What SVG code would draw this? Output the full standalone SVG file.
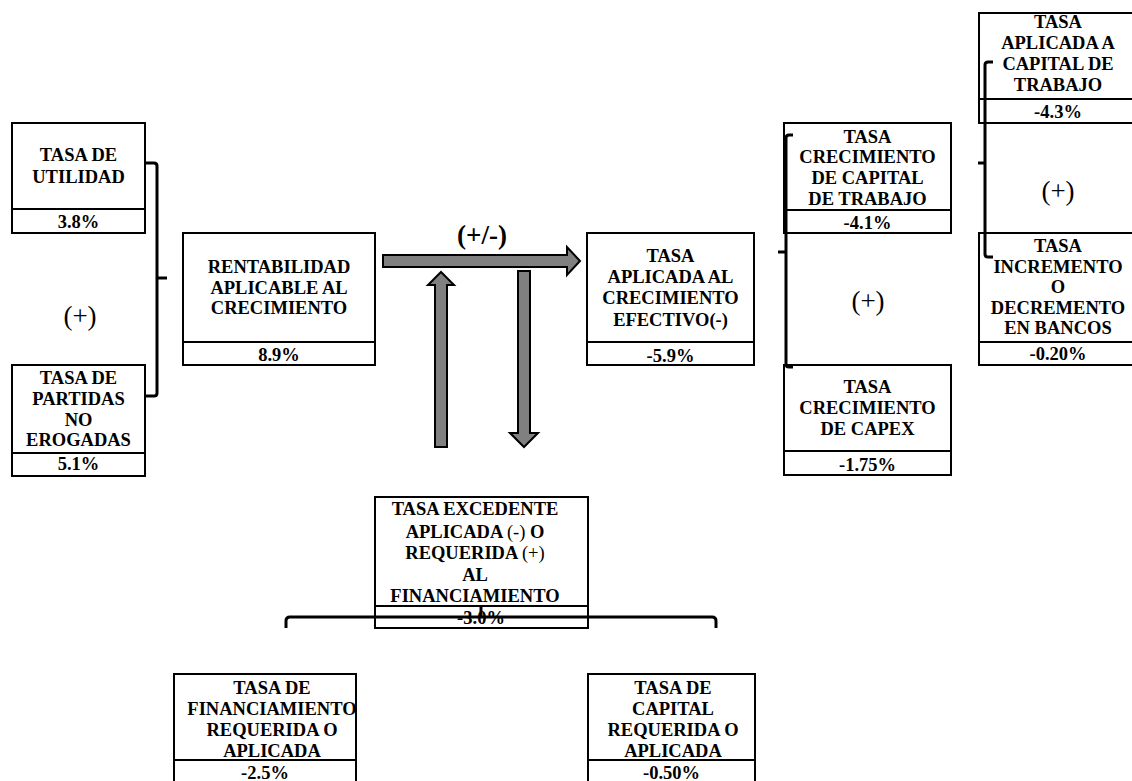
<svg xmlns="http://www.w3.org/2000/svg" width="1132" height="781" viewBox="0 0 1132 781">
<style>
.box{fill:#fff;stroke:#000;stroke-width:2}
.div{stroke:#000;stroke-width:2}
.t{font-family:"Liberation Serif","Times New Roman",serif;font-weight:bold;font-size:18.5px;text-anchor:middle;fill:#000}
.op{font-family:"Liberation Serif","Times New Roman",serif;font-size:27px;text-anchor:middle;fill:#000}
.n{font-weight:normal}
.br{fill:none;stroke:#000;stroke-width:3;stroke-linejoin:round}
.ar{fill:#808080;stroke:#000;stroke-width:2;stroke-linejoin:miter}
</style>
<rect width="1132" height="781" fill="#fff"/>

<g id="tasa-utilidad">
<rect class="box" x="12" y="123" width="133" height="110"/>
<line class="div" x1="12" y1="209" x2="145" y2="209"/>
<text class="t" x="78.5" y="161">TASA DE</text>
<text class="t" x="78.5" y="183">UTILIDAD</text>
<text class="t" x="78.5" y="228">3.8%</text>
</g>

<g id="tasa-partidas">
<rect class="box" x="12" y="365" width="133" height="111"/>
<line class="div" x1="12" y1="453" x2="145" y2="453"/>
<text class="t" x="78.5" y="384">TASA DE</text>
<text class="t" x="78.5" y="405">PARTIDAS</text>
<text class="t" x="78.5" y="426">NO</text>
<text class="t" x="78.5" y="446">EROGADAS</text>
<text class="t" x="78.5" y="470">5.1%</text>
</g>

<g id="rentabilidad">
<rect class="box" x="183" y="233" width="192" height="132"/>
<line class="div" x1="183" y1="342" x2="375" y2="342"/>
<text class="t" x="279" y="273">RENTABILIDAD</text>
<text class="t" x="279" y="294">APLICABLE AL</text>
<text class="t" x="279" y="314">CRECIMIENTO</text>
<text class="t" x="279" y="361">8.9%</text>
</g>

<g id="tasa-aplicada-crecimiento">
<rect class="box" x="587" y="233" width="167" height="132"/>
<line class="div" x1="587" y1="342" x2="754" y2="342"/>
<text class="t" x="670.5" y="262">TASA</text>
<text class="t" x="670.5" y="283">APLICADA AL</text>
<text class="t" x="670.5" y="304">CRECIMIENTO</text>
<text class="t" x="670.5" y="326">EFECTIVO(-)</text>
<text class="t" x="670.5" y="362">-5.9%</text>
</g>

<g id="tasa-capital-trabajo">
<rect class="box" x="784" y="123" width="167" height="110"/>
<line class="div" x1="784" y1="210" x2="951" y2="210"/>
<text class="t" x="867.5" y="143">TASA</text>
<text class="t" x="867.5" y="163">CRECIMIENTO</text>
<text class="t" x="867.5" y="184">DE CAPITAL</text>
<text class="t" x="867.5" y="205">DE TRABAJO</text>
<text class="t" x="867.5" y="229">-4.1%</text>
</g>

<g id="tasa-capex">
<rect class="box" x="784" y="365" width="167" height="110"/>
<line class="div" x1="784" y1="451" x2="951" y2="451"/>
<text class="t" x="867.5" y="393">TASA</text>
<text class="t" x="867.5" y="414">CRECIMIENTO</text>
<text class="t" x="867.5" y="435">DE CAPEX</text>
<text class="t" x="867.5" y="471">-1.75%</text>
</g>

<g id="tasa-aplicada-capital">
<rect class="box" x="979" y="13" width="160" height="110"/>
<line class="div" x1="979" y1="99" x2="1139" y2="99"/>
<text class="t" x="1058" y="28">TASA</text>
<text class="t" x="1058" y="49">APLICADA A</text>
<text class="t" x="1058" y="70">CAPITAL DE</text>
<text class="t" x="1058" y="91">TRABAJO</text>
<text class="t" x="1058" y="118">-4.3%</text>
</g>

<g id="tasa-bancos">
<rect class="box" x="979" y="233" width="160" height="132"/>
<line class="div" x1="979" y1="342" x2="1139" y2="342"/>
<text class="t" x="1058" y="252">TASA</text>
<text class="t" x="1058" y="273">INCREMENTO</text>
<text class="t" x="1058" y="293">O</text>
<text class="t" x="1058" y="314">DECREMENTO</text>
<text class="t" x="1058" y="334">EN BANCOS</text>
<text class="t" x="1058" y="360">-0.20%</text>
</g>

<g id="tasa-excedente">
<rect class="box" x="375" y="497" width="213" height="131"/>
<line class="div" x1="375" y1="606" x2="588" y2="606"/>
<text class="t" x="475" y="515">TASA EXCEDENTE</text>
<text class="t" x="475" y="538">APLICADA <tspan class="n">(-)</tspan> O</text>
<text class="t" x="475" y="559">REQUERIDA <tspan class="n">(+)</tspan></text>
<text class="t" x="475" y="581">AL</text>
<text class="t" x="475" y="602">FINANCIAMIENTO</text>
<text class="t" x="481" y="624">-3.0%</text>
</g>

<g id="tasa-financiamiento">
<rect class="box" x="174" y="674" width="182" height="110"/>
<line class="div" x1="174" y1="760" x2="356" y2="760"/>
<text class="t" x="272" y="694">TASA DE</text>
<text class="t" x="272" y="715">FINANCIAMIENTO</text>
<text class="t" x="272" y="736">REQUERIDA O</text>
<text class="t" x="272" y="757">APLICADA</text>
<text class="t" x="265" y="779">-2.5%</text>
</g>

<g id="tasa-capital">
<rect class="box" x="588" y="674" width="167" height="110"/>
<line class="div" x1="588" y1="760" x2="755" y2="760"/>
<text class="t" x="673" y="694">TASA DE</text>
<text class="t" x="673" y="715">CAPITAL</text>
<text class="t" x="673" y="736">REQUERIDA O</text>
<text class="t" x="673" y="757">APLICADA</text>
<text class="t" x="671.5" y="779">-0.50%</text>
</g>

<g id="connectors">
<path class="br" d="M145,163 H154 Q157,163 157,166 V393 Q157,396 154,396 H145 M157,278 H167"/>
<path class="br" d="M793,135 H789 Q786,135 786,138 V364 Q786,367 789,367 H793 M786,252 H778"/>
<path class="br" d="M993,62 H988 Q985,62 985,65 V254 Q985,257 988,257 H993 M985,163 H978"/>
<path class="br" d="M286,628 V621 Q286,617 290,617 H712 Q716,617 716,621 V628 M481,617 V607"/>
<polygon class="ar" points="383,255 567,255 567,247 580,261 567,275 567,267 383,267"/>
<polygon class="ar" points="435,447 435,285 428,285 441,272 454,285 447,285 447,447"/>
<polygon class="ar" points="518,271 530,271 530,433 538,433 524,447 510,433 518,433"/>
</g>

<g id="operators">
<text class="op" x="80" y="325">(+)</text>
<text class="op" x="868" y="310">(+)</text>
<text class="op" x="1058" y="200">(+)</text>
<text class="op" x="482" y="244" font-weight="bold">(+/-)</text>
</g>
</svg>
